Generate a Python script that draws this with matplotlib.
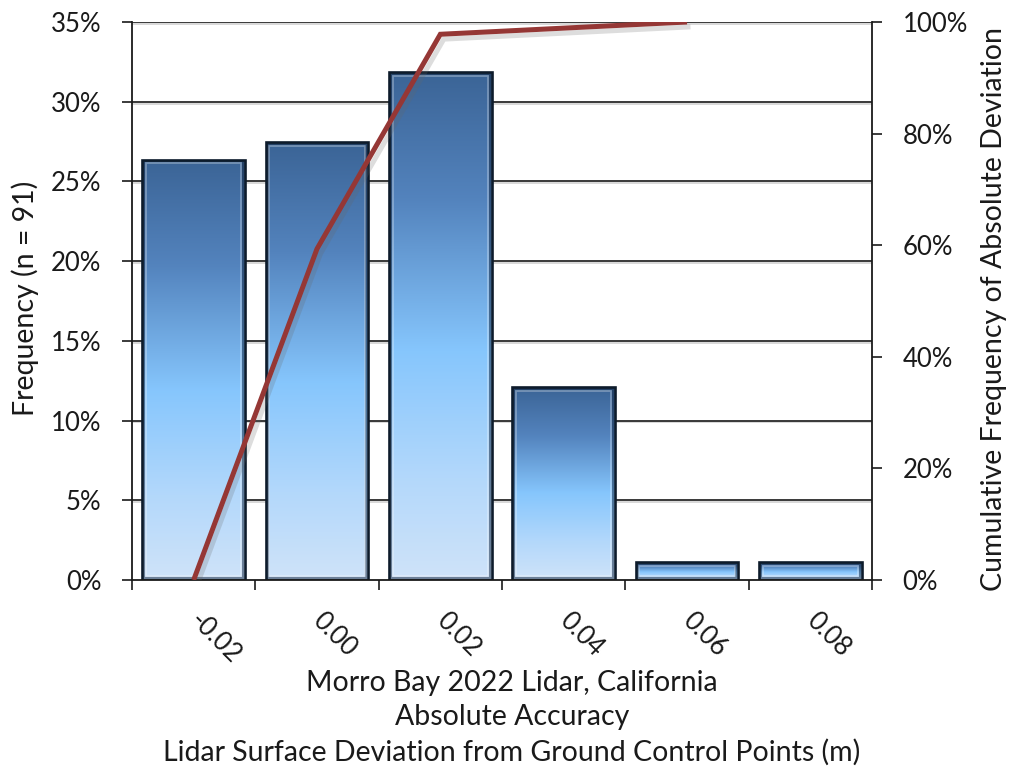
import numpy as np
import matplotlib
matplotlib.use("Agg")
import matplotlib.pyplot as plt
from matplotlib.patches import Rectangle
from matplotlib.colors import LinearSegmentedColormap
import matplotlib.patheffects as pe
from matplotlib.ticker import FuncFormatter, MultipleLocator

plt.rcParams["font.family"] = ["Lato", "DejaVu Sans"]

# Histogram of lidar surface deviation (bin labels in metres)
categories = ["-0.02", "0.00", "0.02", "0.04", "0.06", "0.08"]
frequency_pct = [26.37, 27.47, 31.87, 12.09, 1.10, 1.10]
# Cumulative frequency of absolute deviation (first five bins)
cumulative_pct = [0.0, 59.34, 97.80, 98.90, 100.0]

title_lines = [
    "Morro Bay 2022 Lidar, California",
    "Absolute Accuracy",
    "Lidar Surface Deviation from Ground Control Points (m)",
]

W, H = 1013, 773
fig = plt.figure(figsize=(W / 100, H / 100), dpi=100)
ax = fig.add_axes([132 / W, 1 - 580 / H, (872 - 132) / W, (580 - 22) / H])

FS_TICK = 18.5
FS_TEXT = 20.5
ink = "#1a1a1a"
n = len(categories)
x = np.arange(n)
bar_w = 0.83

ax.set_xlim(-0.5, n - 0.5)
ax.set_ylim(0, 35)

# gridlines behind bars
ax.yaxis.set_major_locator(MultipleLocator(5))
for v in np.arange(5, 35.1, 5):
    ax.axhline(v, color="#2a2a2a", lw=1.3, zorder=1,
               path_effects=[pe.SimpleLineShadow(offset=(0, -1.3), shadow_color="#888888", alpha=0.35),
                             pe.Normal()])

# vertical gradient for bar fill
grad_cmap = LinearSegmentedColormap.from_list(
    "barfill",
    [(0.0, "#3b6496"), (0.25, "#5383bd"), (0.55, "#86c6fd"), (0.8, "#b3d8fb"), (1.0, "#cfe3f9")],
)
grad = grad_cmap(np.linspace(0, 1, 256))[:, None, :3]

fig.canvas.draw()
bbox = ax.get_window_extent()
px_x = n / bbox.width
px_y = 35 / bbox.height

for xi, h in zip(x, frequency_pct):
    x0 = xi - bar_w / 2
    rect = Rectangle((x0, 0), bar_w, h, facecolor="none", edgecolor="none", zorder=2)
    ax.add_patch(rect)
    im = ax.imshow(grad, extent=(x0, x0 + bar_w, 0, h), aspect="auto",
                   origin="upper", zorder=2, interpolation="bilinear")
    im.set_clip_path(rect)
    # bevel: soft dark rim, light inner highlight, crisp outline
    ax.add_patch(Rectangle((x0 + 1.8 * px_x, 1.8 * px_y), bar_w - 3.6 * px_x, max(h - 3.6 * px_y, 0),
                           facecolor="none", edgecolor=(0.05, 0.12, 0.22, 0.5), lw=1.6, zorder=2.2))
    inset_x, inset_y = 3.6 * px_x, 3.6 * px_y
    ax.add_patch(Rectangle((x0 + inset_x, inset_y), bar_w - 2 * inset_x, max(h - 2 * inset_y, 0),
                           facecolor="none", edgecolor=(1, 1, 1, 0.3), lw=1.3, zorder=2.3))
    ax.add_patch(Rectangle((x0, 0), bar_w, h, facecolor="none", edgecolor="#0d1b2b",
                           lw=1.9, zorder=2.4))

ax.set_xlim(-0.5, n - 0.5)
ax.set_ylim(0, 35)

ax.spines["top"].set_visible(False)
ax.spines["right"].set_visible(False)
for s in ("left", "bottom"):
    ax.spines[s].set_linewidth(1.3)
    ax.spines[s].set_color(ink)
    ax.spines[s].set_zorder(3)

ax.yaxis.set_major_formatter(FuncFormatter(lambda v, p: f"{v:.0f}%"))
ax.tick_params(axis="y", direction="out", length=7, width=1.2, colors=ink,
               labelsize=FS_TICK, pad=15)
ax.set_xticks(np.arange(-0.5, n, 1.0))
ax.set_xticklabels([])
ax.tick_params(axis="x", direction="out", length=7, width=1.2, colors=ink)

for xi, lab in zip(x, categories):
    ax.annotate(lab, xy=(xi, 0), xycoords=("data", "axes fraction"),
                xytext=(0, -37), textcoords="offset pixels",
                rotation=-45, rotation_mode="anchor", ha="left", va="center",
                fontsize=FS_TICK, color=ink, annotation_clip=False)

# cumulative curve on the secondary axis
ax2 = ax.twinx()
ax2.set_ylim(0, 100)
ax2.plot(x[:len(cumulative_pct)], cumulative_pct, color="#953735", lw=3.6,
         solid_joinstyle="miter", solid_capstyle="butt", zorder=5,
         path_effects=[pe.SimpleLineShadow(offset=(2.5, -3.5), shadow_color="#666666", alpha=0.22),
                       pe.Normal()])
ax2.yaxis.set_major_locator(MultipleLocator(20))
ax2.yaxis.set_major_formatter(FuncFormatter(lambda v, p: f"{v:.0f}%"))
ax2.tick_params(axis="y", direction="out", length=7, width=1.2, colors=ink,
                labelsize=FS_TICK, pad=15)
for s in ("top", "left", "bottom"):
    ax2.spines[s].set_visible(False)
ax2.spines["right"].set_linewidth(1.3)
ax2.spines["right"].set_color(ink)

fig.text(25 / W, 1 - 298 / H, "Frequency (n = 91)", rotation=90,
         ha="center", va="center", fontsize=FS_TEXT, color=ink)
fig.text(994 / W, 1 - 309 / H, "Cumulative Frequency of Absolute Deviation", rotation=90,
         ha="center", va="center", fontsize=FS_TEXT, color=ink)

for i, line in enumerate(title_lines):
    fig.text(512 / W, 1 - (683 + 34.5 * i) / H, line, ha="center", va="center",
             fontsize=FS_TEXT, color=ink)

fig.savefig("out.png", dpi=100, facecolor="white")
